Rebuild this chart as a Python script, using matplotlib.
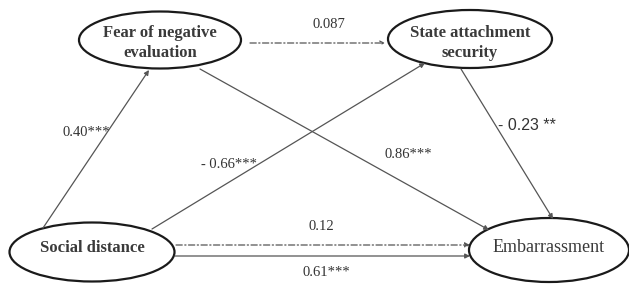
import matplotlib
matplotlib.use("Agg")
import matplotlib.pyplot as plt
from matplotlib.patches import Ellipse, FancyArrowPatch

# nodes: label, centre (px), width, height
node_names = ["fne", "sas", "sd", "emb"]
node_labels = ["Fear of negative\nevaluation", "State attachment\nsecurity",
               "Social distance", "Embarrassment"]
node_centres = [(160, 40), (470, 39), (92, 252), (549, 250)]
node_sizes = [(162, 57), (164, 58), (165, 59), (160, 64)]
node_text_dy = [3, 4, -4, -3]
node_bold = [True, True, True, False]

# paths: coefficient label, start, end, dashed?
path_labels = ["0.40***", "- 0.66***", "0.86***", "- 0.23 **", "0.087", "0.12", "0.61***"]
path_starts = [(43, 228), (152, 229), (200, 69), (461, 69), (250, 43), (176, 245), (175, 256)]
path_ends = [(149, 70), (425, 63), (489, 230), (553, 219), (385, 43), (470, 245), (470, 256)]
path_dashed = [False, False, False, False, True, True, False]
label_pos = [(86, 132), (229, 165), (408, 155), (527, 126), (329, 25), (321, 227), (326, 272)]

fig = plt.figure(figsize=(6.29, 2.85), dpi=100)
ax = fig.add_axes([0, 0, 1, 1])
ax.set_xlim(0, 629)
ax.set_ylim(285, 0)
ax.axis("off")

for lab, (cx, cy), (w, h), dy, bold in zip(node_labels, node_centres, node_sizes,
                                           node_text_dy, node_bold):
    ax.add_patch(Ellipse((cx, cy), w, h, fill=False, ec="#1a1a1a", lw=1.6))
    ax.text(cx, cy + dy, lab, ha="center", va="center",
            fontsize=12 if bold else 13, family="Liberation Serif",
            fontweight="bold" if bold else "normal", color="#3a3a3a",
            linespacing=1.35)

for i, lab in enumerate(path_labels):
    dashed = path_dashed[i]
    style = "->" if i == 4 else "-|>"
    arr = FancyArrowPatch(path_starts[i], path_ends[i], arrowstyle=style,
                          mutation_scale=7, color="#555555", lw=0.9,
                          linestyle=(0, (5, 2, 1, 2)) if dashed else "-",
                          shrinkA=0, shrinkB=0)
    ax.add_patch(arr)
    sans = lab.startswith("- 0.23")
    ax.text(label_pos[i][0], label_pos[i][1], lab, ha="center", va="center",
            fontsize=11.5 if sans else 10.5,
            family="Liberation Sans" if sans else "Liberation Serif",
            color="#333333")

fig.savefig("out.png", dpi=100)
